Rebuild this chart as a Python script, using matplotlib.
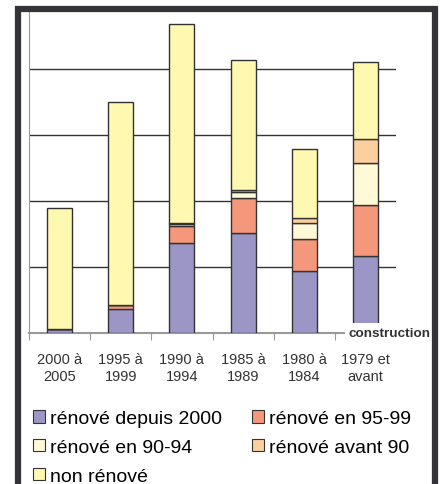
import numpy as np
import matplotlib
matplotlib.use("Agg")
import matplotlib.pyplot as plt
from matplotlib.patches import Rectangle, Patch

categories = ["2000 à\n2005", "1995 à\n1999", "1990 à\n1994", "1985 à\n1989", "1980 à\n1984", "1979 et\navant"]
renove_2000 = [0.06, 0.37, 1.36, 1.51, 0.94, 1.17]
renove_95_99 = [0.00, 0.05, 0.26, 0.53, 0.49, 0.77]
renove_90_94 = [0.00, 0.00, 0.03, 0.09, 0.24, 0.63]
renove_avant_90 = [0.00, 0.00, 0.02, 0.03, 0.07, 0.36]
non_renove = [1.84, 3.08, 3.01, 1.97, 1.04, 1.18]

labels = ["rénové depuis 2000", "rénové en 95-99", "rénové en 90-94", "rénové avant 90", "non rénové"]
colors = ["#9C96C6", "#F5977A", "#FFF9D8", "#FCD09E", "#FFF8B0"]
series = [renove_2000, renove_95_99, renove_90_94, renove_avant_90, non_renove]

plt.rcParams['font.family'] = ['Liberation Sans', 'DejaVu Sans']

fig = plt.figure(figsize=(4.42, 4.85), dpi=100)
ax = fig.add_axes([29 / 442, 1 - 334 / 485, 367 / 442, 321 / 485])

x = np.arange(len(categories))
bottom = np.zeros(len(categories))
for vals, col in zip(series, colors):
    vals = np.array(vals)
    ax.bar(x, vals, width=0.41, bottom=bottom, color=col, edgecolor="#333333", linewidth=1, zorder=3)
    bottom += vals

ax.set_xlim(-0.5, len(categories) - 0.5)
ax.set_ylim(0, 4.86)
for g in [1, 2, 3, 4]:
    ax.axhline(g, color="#333333", linewidth=1, zorder=1)

for s in ["top", "right"]:
    ax.spines[s].set_visible(False)
ax.spines["left"].set_color("#999999")
ax.spines["bottom"].set_color("#999999")
ax.spines["bottom"].set_linewidth(1.5)
ax.set_yticks([])
ax.set_xticks(np.arange(len(categories) + 1) - 0.5, minor=False)
ax.set_xticklabels([])
ax.tick_params(axis="x", length=5, color="#999999", direction="out")
for i, c in enumerate(categories):
    ax.text(i, -0.29, c, ha="center", va="top", fontsize=10.5, color="#333333",
            linespacing=1.3, transform=ax.transData, clip_on=False)

ax.text(6.06, 0.0, "construction", ha="right", va="center", fontsize=9.7, fontweight="bold",
        color="#333333", zorder=5, clip_on=False,
        bbox=dict(facecolor="white", edgecolor="none", pad=2.5))

handles = [Patch(facecolor=c, edgecolor="#333333", linewidth=0.8) for c in colors]
order = [0, 2, 4, 1, 3]
fig.legend([handles[i] for i in order], [labels[i] for i in order], ncol=2,
           loc="upper left", bbox_to_anchor=(33 / 442, 1 - 411 / 485), frameon=False,
           fontsize=14, handlelength=0.62, handleheight=0.62, handletextpad=0.26,
           columnspacing=1.55, labelspacing=0.6, borderaxespad=0, borderpad=0)

fig.patches.append(Rectangle((18 / 442, -0.05), 417 / 442, 1.05 - 10 / 485,
                             transform=fig.transFigure, fill=False,
                             edgecolor="#333338", linewidth=4.5))

fig.savefig("out.png", dpi=100)
